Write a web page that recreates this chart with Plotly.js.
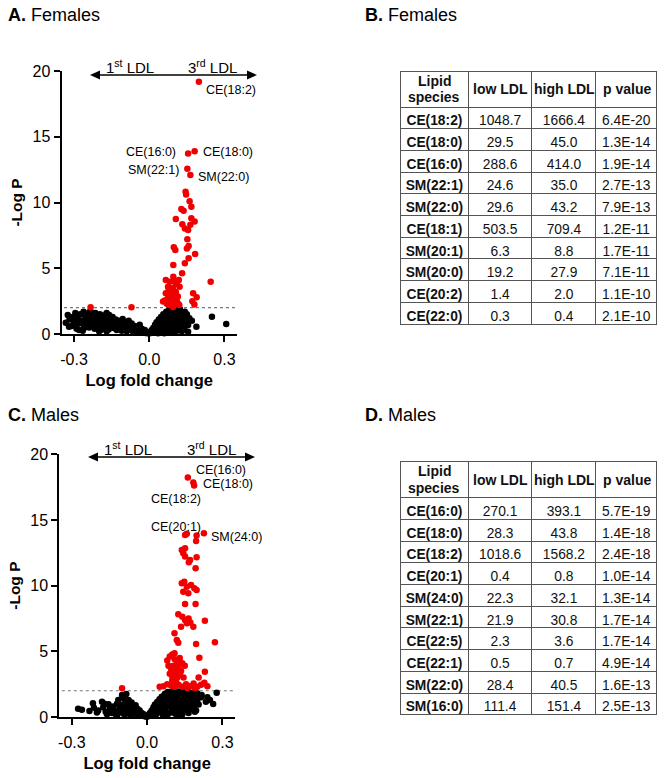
<!DOCTYPE html>
<html>
<head>
<meta charset="utf-8">
<script src="https://cdn.plot.ly/plotly-3.0.1.min.js"></script>
<style>html,body{margin:0;padding:0;background:#fff;}#chart{width:669px;height:778px;}</style>
</head>
<body>
<div id="chart"></div>
<script>
// ---------- DATA ----------
const xTickVals = [-0.3, 0.0, 0.3];
const xTickText = ['-0.3', '0.0', '0.3'];
const yTickVals = [0, 5, 10, 15, 20];
const sigThreshold = 2;

// Females (panel A) - significant (red)
const femSigX = [0.198,0.155,0.181,0.152,0.164,0.145,0.147,0.161,0.168,0.128,0.137,0.106,0.168,0.181,0.132,0.142,0.164,0.155,0.152,0.157,0.150,0.098,0.104,0.183,0.157,0.142,0.096,0.131,0.245,0.066,0.082,0.096,0.113,0.075,0.086,0.092,0.101,0.075,0.055,0.088,0.106,0.114,0.121,0.066,0.175,0.189,0.172,0.180,-0.234,-0.071,0.070,0.080,0.090,0.100,0.110,0.120,0.095,0.085,0.078,0.095,0.108,0.118,0.100,0.062,0.115,0.105];
const femSigY = [19.19,13.72,13.89,12.57,12.10,10.82,10.60,10.09,9.68,9.50,9.37,8.74,8.80,8.55,8.35,8.02,8.30,7.90,7.20,6.70,6.50,6.59,6.39,6.08,5.76,5.38,5.25,4.62,3.98,4.10,3.98,4.36,4.03,3.60,3.30,3.10,2.85,2.72,2.47,2.60,3.20,2.85,3.60,3.10,3.10,2.80,2.50,2.25,2.03,2.03,2.30,2.20,2.40,2.30,2.50,2.20,2.05,2.90,3.40,3.50,3.80,4.10,4.00,2.55,2.30,2.55];
// Females (panel A) - not significant (black)
const femNsX = [-0.333,-0.325,-0.318,-0.310,-0.305,-0.300,-0.295,-0.290,-0.285,-0.280,-0.275,-0.270,-0.265,-0.262,-0.258,-0.255,-0.250,-0.245,-0.240,-0.238,-0.235,-0.230,-0.226,-0.222,-0.218,-0.215,-0.210,-0.206,-0.200,-0.197,-0.193,-0.190,-0.186,-0.182,-0.178,-0.175,-0.170,-0.166,-0.162,-0.158,-0.154,-0.150,-0.146,-0.142,-0.138,-0.134,-0.130,-0.126,-0.122,-0.118,-0.114,-0.110,-0.106,-0.102,-0.098,-0.094,-0.090,-0.086,-0.082,-0.078,-0.074,-0.070,-0.066,-0.062,-0.058,-0.054,-0.050,-0.046,-0.042,-0.038,-0.034,-0.030,-0.026,-0.022,-0.018,-0.014,-0.010,-0.006,-0.002,0.002,0.006,0.010,0.013,0.016,0.020,0.023,0.026,0.029,0.032,0.035,0.038,0.041,0.044,0.047,0.050,0.053,0.056,0.059,0.062,0.065,0.068,0.071,0.074,0.077,0.080,0.083,0.086,0.089,0.092,0.095,0.098,0.101,0.104,0.107,0.110,0.113,0.116,0.119,0.122,0.125,0.128,0.131,0.134,0.138,0.142,0.146,0.150,0.155,0.155,0.160,0.170,0.188,0.250,0.307,0.060,0.070,0.080,0.090,0.100,0.110,0.120,0.130,0.140,0.085,0.095,0.105,0.115,0.100,0.090,0.075,0.055,0.045,0.035,0.065,0.118,0.126,0.133,0.073,0.087,0.097,0.108,0.112,0.124,-0.320,-0.290,-0.260,-0.240,-0.210,-0.190,-0.170,-0.160,-0.130,-0.110,-0.200,-0.280,-0.230,-0.250,-0.300];
const femNsY = [0.85,1.45,1.10,0.60,1.30,0.95,1.60,0.40,1.20,0.80,1.50,1.00,0.25,1.70,0.60,1.30,0.90,1.55,0.50,1.15,1.75,0.75,1.35,1.00,0.40,1.60,0.65,1.25,0.95,1.50,0.30,1.10,0.70,1.40,0.50,1.05,1.60,0.80,0.35,1.20,0.60,0.95,1.30,0.45,0.80,1.10,0.30,0.65,1.00,0.50,0.85,0.25,1.15,0.60,0.40,0.90,0.20,0.70,1.00,0.35,0.55,0.80,0.20,0.45,0.60,0.30,0.50,0.15,0.35,0.70,0.25,0.40,0.10,0.20,0.30,0.08,0.15,0.05,0.10,0.05,0.15,0.30,0.10,0.45,0.25,0.70,0.40,0.90,0.15,0.60,1.10,0.35,0.80,1.30,0.50,1.00,1.50,0.20,0.70,1.20,1.70,0.45,0.95,1.40,1.85,0.30,0.75,1.15,1.60,1.95,0.55,1.00,1.35,1.80,0.25,0.80,1.25,1.65,1.90,0.60,1.10,1.50,0.40,1.30,1.70,1.00,1.50,0.68,0.18,1.20,1.00,0.56,1.32,0.76,0.05,0.10,0.60,0.35,0.15,1.45,0.95,0.20,0.45,1.40,1.20,0.50,2.00,1.90,1.85,1.60,0.90,0.20,0.05,0.35,0.40,1.40,0.90,1.20,0.10,0.80,0.95,1.70,1.75,0.55,0.75,0.45,0.95,1.45,0.55,0.20,1.45,0.90,0.60,0.20,0.30,1.20,1.15,1.15];

// Males (panel C) - significant (red)
const malSigX = [0.162,0.184,0.187,0.151,0.158,0.197,0.195,0.226,0.138,0.151,0.144,0.151,0.171,0.197,0.193,0.166,0.138,0.148,0.158,0.175,0.144,0.164,0.188,0.197,0.151,0.193,0.124,0.140,0.151,0.158,0.165,0.172,0.230,0.135,0.184,0.109,0.118,0.124,0.195,0.270,0.208,0.109,0.080,0.090,0.100,0.110,0.120,0.130,0.140,0.085,0.095,0.105,0.115,0.125,0.135,0.150,0.090,0.100,0.110,0.120,0.130,0.145,0.100,0.115,0.230,0.205,0.050,0.065,0.080,0.095,0.110,0.125,0.140,0.155,0.170,0.185,0.200,0.215,0.228,0.240,0.160,0.190,-0.100];
const malSigY = [18.24,17.85,17.62,13.86,13.95,13.81,13.40,13.99,12.72,12.85,12.47,12.21,11.96,12.16,11.32,11.78,10.18,10.30,9.92,10.05,9.54,9.42,9.80,9.67,8.60,8.60,7.82,7.64,7.39,7.14,7.50,7.20,7.33,6.88,6.88,6.37,5.86,5.66,5.56,5.69,4.52,4.85,4.30,4.60,4.75,4.40,4.20,4.50,4.10,3.90,3.70,3.90,3.60,3.80,3.50,3.90,3.30,3.10,3.40,3.00,3.20,3.00,2.80,2.70,3.45,3.00,2.30,2.35,2.50,2.40,2.30,2.45,2.30,2.50,2.35,2.55,2.30,2.45,2.60,2.35,2.20,2.20,2.18];
// Males (panel C) - not significant (black)
const malNsX = [-0.275,-0.260,-0.216,-0.212,-0.195,-0.180,-0.175,-0.165,-0.154,-0.148,-0.140,-0.135,-0.130,-0.125,-0.120,-0.115,-0.110,-0.105,-0.100,-0.097,-0.093,-0.090,-0.087,-0.083,-0.080,-0.077,-0.074,-0.070,-0.066,-0.062,-0.058,-0.054,-0.050,-0.046,-0.042,-0.038,-0.034,-0.030,-0.026,-0.022,-0.018,-0.014,-0.010,-0.006,-0.002,-0.160,-0.120,-0.090,-0.065,-0.200,-0.230,-0.170,-0.110,-0.085,0.003,0.007,0.011,0.015,0.018,0.022,0.025,0.028,0.031,0.034,0.037,0.040,0.043,0.046,0.049,0.052,0.055,0.058,0.061,0.064,0.067,0.070,0.073,0.076,0.079,0.082,0.085,0.088,0.091,0.094,0.097,0.100,0.103,0.106,0.109,0.112,0.115,0.118,0.121,0.124,0.127,0.130,0.133,0.136,0.139,0.142,0.145,0.148,0.151,0.154,0.157,0.160,0.163,0.166,0.170,0.174,0.178,0.182,0.186,0.190,0.195,0.200,0.205,0.210,0.215,0.217,0.234,0.263,0.277,0.250,0.240,0.190,0.125,0.140,0.080,0.095,0.110,0.120,0.130,0.155,0.165,0.175,0.185,0.200,0.060,0.070,0.090,0.105,0.135,0.150,0.160];
const malNsY = [0.63,0.55,1.04,0.70,0.50,1.17,0.75,0.40,0.97,0.60,0.30,0.80,0.50,0.20,1.00,1.29,0.60,0.35,1.68,0.90,1.40,0.50,1.10,1.75,0.70,0.30,1.30,0.90,0.50,1.10,0.30,0.75,0.45,0.90,0.20,0.60,0.35,0.50,0.15,0.30,0.10,0.20,0.05,0.10,0.02,0.20,0.10,0.15,0.10,0.35,0.45,1.00,0.95,0.45,0.05,0.15,0.30,0.10,0.50,0.25,0.75,0.40,0.95,0.15,0.60,1.15,0.35,0.85,1.35,0.50,1.05,1.55,0.20,0.75,1.25,1.75,0.45,1.00,1.45,1.90,0.30,0.80,1.20,1.65,1.95,0.55,1.05,1.40,1.85,0.25,0.85,1.30,1.70,1.95,0.60,1.15,1.55,0.40,0.95,1.35,1.80,0.70,1.20,1.60,0.50,1.00,1.45,1.90,0.80,1.30,0.60,1.10,1.60,0.90,0.50,1.30,0.95,1.60,1.50,1.68,1.17,0.99,1.85,1.30,1.50,0.40,0.30,0.20,0.10,0.35,0.70,0.15,0.45,0.95,0.30,1.70,1.85,1.80,0.90,0.40,1.50,1.70,1.90,1.95,1.75];

// Labelled points
const femLabels = ['CE(18:2)', 'CE(16:0)', 'CE(18:0)', 'SM(22:1)', 'SM(22:0)'];
const femLabelX = [0.217, 0.115, 0.205, 0.128, 0.185];
const femLabelY = [18.55, 13.86, 13.82, 12.47, 11.92];
const femLabelAnchor = ['left', 'right', 'left', 'right', 'left'];
const malLabels = ['CE(16:0)', 'CE(18:0)', 'CE(18:2)', 'CE(20:1)', 'SM(24:0)'];
const malLabelX = [0.188, 0.2145, 0.114, 0.114, 0.2476];
const malLabelY = [18.81, 17.72, 16.58, 14.5, 13.73];
const malLabelAnchor = ['left', 'left', 'center', 'center', 'left'];

// Tables
const tableHeader = ['Lipid<br>species', 'low LDL', 'high LDL', 'p value'];
const femSpecies = ['CE(18:2)','CE(18:0)','CE(16:0)','SM(22:1)','SM(22:0)','CE(18:1)','SM(20:1)','SM(20:0)','CE(20:2)','CE(22:0)'];
const femLow = [1048.7, 29.5, 288.6, 24.6, 29.6, 503.5, 6.3, 19.2, 1.4, 0.3];
const femHigh = [1666.4, 45.0, 414.0, 35.0, 43.2, 709.4, 8.8, 27.9, 2.0, 0.4];
const femP = [6.4e-20, 1.3e-14, 1.9e-14, 2.7e-13, 7.9e-13, 1.2e-11, 1.7e-11, 7.1e-11, 1.1e-10, 2.1e-10];
const malSpecies = ['CE(16:0)','CE(18:0)','CE(18:2)','CE(20:1)','SM(24:0)','SM(22:1)','CE(22:5)','CE(22:1)','SM(22:0)','SM(16:0)'];
const malLow = [270.1, 28.3, 1018.6, 0.4, 22.3, 21.9, 2.3, 0.5, 28.4, 111.4];
const malHigh = [393.1, 43.8, 1568.2, 0.8, 32.1, 30.8, 3.6, 0.7, 40.5, 151.4];
const malP = [5.7e-19, 1.4e-18, 2.4e-18, 1.0e-14, 1.3e-14, 1.7e-14, 1.7e-14, 4.9e-14, 1.6e-13, 2.5e-13];

// ---------- STYLE / LAYOUT ----------
const W = 669, H = 778;
const PX = x => x / W;
const PY = y => 1 - y / H;
const FONT = 'Liberation Sans, Arial, sans-serif';
const RED = '#f00000';
const colEdges = [400.7, 468.3, 532.3, 596.3, 657.3];
const headerH = 36, rowH = 21.7;

function scatter(x, y, color, xa, ya) {
  return {type: 'scatter', mode: 'markers', x: x, y: y, xaxis: xa, yaxis: ya,
    marker: {color: color, size: 6.5, line: {width: 0}}, cliponaxis: false, hoverinfo: 'skip'};
}
function tableTrace(species, low, high, p, top) {
  return {
    type: 'table',
    domain: {x: [PX(colEdges[0]), PX(colEdges[4])], y: [PY(top + headerH + rowH * 10 + 12), PY(top)]},
    columnwidth: colEdges.slice(1).map((e, i) => e - colEdges[i]),
    header: {
      values: tableHeader.map(() => ''),
      align: 'center', height: headerH,
      line: {color: '#555', width: 1}, fill: {color: 'white'},
      font: {family: FONT, size: 14, color: '#111'}
    },
    cells: {
      values: [species, low.map(v => v.toFixed(1)), high.map(v => v.toFixed(1)),
               p.map(v => v.toExponential(1).toUpperCase())],
      align: 'center', height: rowH,
      line: {color: '#555', width: 1}, fill: {color: 'white'},
      font: {family: FONT, size: 13.8, color: '#111', weight: ['bold', 'normal', 'normal', 'normal']}
    }
  };
}

const data = [
  scatter(femNsX, femNsY, '#000', 'x', 'y'),
  scatter(femSigX, femSigY, RED, 'x', 'y'),
  scatter(malNsX, malNsY, '#000', 'x2', 'y2'),
  scatter(malSigX, malSigY, RED, 'x2', 'y2'),
  tableTrace(femSpecies, femLow, femHigh, femP, 71),
  tableTrace(malSpecies, malLow, malHigh, malP, 461.7)
];

function xAxis(domain, anchor) {
  return {domain: domain, anchor: anchor, range: [-0.35, 0.35], tickvals: xTickVals, ticktext: xTickText,
    showline: true, linewidth: 2, linecolor: '#000', ticks: 'outside', ticklen: 6, tickwidth: 2, tickcolor: '#000',
    ticklabelstandoff: 4,
    showgrid: false, zeroline: false, tickfont: {family: FONT, size: 16, color: '#000'},
    title: {text: '<b>Log fold change</b>', font: {family: FONT, size: 16.5, color: '#000'}, standoff: 7}};
}
function yAxis(domain, anchor) {
  return {domain: domain, anchor: anchor, range: [0, 20], tickvals: yTickVals,
    showline: true, linewidth: 2, linecolor: '#000', ticks: 'outside', ticklen: 6, tickwidth: 2, tickcolor: '#000',
    showgrid: false, zeroline: false, tickfont: {family: FONT, size: 16, color: '#000'},
    title: {text: '<b>-Log P</b>', font: {family: FONT, size: 15.5, color: '#000'}, standoff: 6}};
}

const annotations = [];
function panelTitle(letter, word, x, y) {
  annotations.push({xref: 'paper', yref: 'paper', x: PX(x), y: PY(y), xanchor: 'left', yanchor: 'middle',
    text: '<b>' + letter + '.</b> ' + word, showarrow: false, font: {family: FONT, size: 18, color: '#000'}});
}
panelTitle('A', 'Females', 6, 15);
panelTitle('B', 'Females', 363, 15);
panelTitle('C', 'Males', 6, 415);
panelTitle('D', 'Males', 363, 415);

// table header texts (bold), centred in each header cell
function headerTexts(top) {
  const cy = top + headerH / 2;
  tableHeader.forEach((h, i) => {
    const cx = (colEdges[i] + colEdges[i + 1]) / 2;
    const lines = h.split('<br>');
    lines.forEach((ln, j) => annotations.push({xref: 'paper', yref: 'paper', x: PX(cx),
      y: PY(cy + (j - (lines.length - 1) / 2) * 16.6), xanchor: 'center', yanchor: 'middle',
      text: '<b>' + ln + '</b>', showarrow: false, font: {family: FONT, size: 14, color: '#111'}}));
  });
}
headerTexts(71);
headerTexts(461.7);

function pointLabels(labels, lx, ly, anch, xa, ya) {
  labels.forEach((t, i) => annotations.push({xref: xa, yref: ya, x: lx[i], y: ly[i], xanchor: anch[i], yanchor: 'middle',
    text: t, showarrow: false, font: {family: FONT, size: 12.5, color: '#000'}}));
}
pointLabels(femLabels, femLabelX, femLabelY, femLabelAnchor, 'x', 'y');
pointLabels(malLabels, malLabelX, malLabelY, malLabelAnchor, 'x2', 'y2');

function ldlText(cx1, cx3, cy) {
  annotations.push({xref: 'paper', yref: 'paper', x: PX(cx1), y: PY(cy), xanchor: 'center', yanchor: 'middle',
    text: '1<sup>st</sup> LDL', showarrow: false, font: {family: FONT, size: 15, color: '#000'}});
  annotations.push({xref: 'paper', yref: 'paper', x: PX(cx3), y: PY(cy), xanchor: 'center', yanchor: 'middle',
    text: '3<sup>rd</sup> LDL', showarrow: false, font: {family: FONT, size: 15, color: '#000'}});
}
ldlText(130, 213, 66);
ldlText(128, 211, 448);

const shapes = [];
function dArrow(x0, x1, y) {
  shapes.push({type: 'line', xref: 'paper', yref: 'paper', x0: PX(x0 + 4), x1: PX(x1 - 4), y0: PY(y), y1: PY(y),
    line: {color: '#000', width: 1.5}});
  const L = 10, h = 4.5;
  shapes.push({type: 'path', xref: 'paper', yref: 'paper', fillcolor: '#000', line: {width: 0},
    path: `M${PX(x0)},${PY(y)} L${PX(x0 + L)},${PY(y - h)} L${PX(x0 + L)},${PY(y + h)} Z`});
  shapes.push({type: 'path', xref: 'paper', yref: 'paper', fillcolor: '#000', line: {width: 0},
    path: `M${PX(x1)},${PY(y)} L${PX(x1 - L)},${PY(y - h)} L${PX(x1 - L)},${PY(y + h)} Z`});
}
dArrow(90, 257, 75);
dArrow(88, 255, 457);

[['x', 'y'], ['x2', 'y2']].forEach(([xa, ya]) => shapes.push({type: 'line', xref: xa, yref: ya,
  x0: -0.34, x1: 0.35, y0: sigThreshold, y1: sigThreshold, line: {color: '#777', width: 1.2, dash: 'dot'}, layer: 'below'}));

const layout = {
  width: W, height: H, margin: {l: 0, r: 0, t: 0, b: 0}, paper_bgcolor: '#fff', plot_bgcolor: '#fff',
  showlegend: false, font: {family: FONT, color: '#000'},
  xaxis: xAxis([PX(61.5), PX(237)], 'y'),
  yaxis: yAxis([PY(334), PY(71)], 'x'),
  xaxis2: xAxis([PX(59.3), PX(235)], 'y2'),
  yaxis2: yAxis([PY(717), PY(454.3)], 'x2'),
  annotations: annotations, shapes: shapes
};

Plotly.newPlot('chart', data, layout, {displayModeBar: false, staticPlot: true});
</script>
</body>
</html>
